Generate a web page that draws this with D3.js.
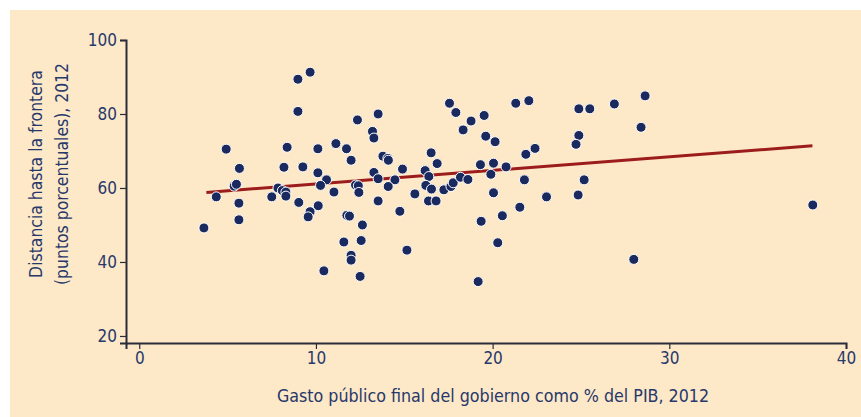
<!DOCTYPE html>
<html>
<head>
<meta charset="utf-8">
<script src="https://cdn.jsdelivr.net/npm/d3@7"></script>
<style>
  body { margin: 0; background: #fff; }
  svg { display: block; }
  text { font-family: "Liberation Sans Narrow", "DejaVu Sans Condensed", "Arial Narrow", sans-serif; }
</style>
</head>
<body>
<script>
// gasto publico (% PIB) and distancia a la frontera, one entry per country
const gasto = [3.66, 4.36, 4.92, 5.37, 5.5, 5.67, 5.64, 5.64, 7.5, 7.85, 8.1, 8.3, 8.3, 9.03, 8.37, 8.19,
  8.98, 8.98, 9.67, 12.35, 13.52, 13.2, 13.28, 10.11, 11.13, 11.73, 11.99, 9.26, 10.11, 10.6, 10.26,
  11.02, 12.24, 12.4, 13.28, 13.52, 13.79, 14.07, 14.1, 14.9, 14.47, 14.09, 16.52, 16.86, 16.18, 16.39,
  16.22, 16.54, 12.43, 15.6, 16.37, 16.8, 13.52, 14.75, 9.67, 9.56, 10.13, 11.75, 11.9, 12.63, 11.58,
  12.56, 11.99, 11.99, 10.45, 12.5, 15.15, 17.56, 17.92, 18.78, 18.33, 19.52, 19.61, 20.14, 21.31,
  22.05, 24.88, 25.5, 26.89, 28.4, 24.88, 24.72, 22.4, 21.88, 17.24, 17.64, 17.77, 18.18, 18.6, 19.31,
  20.05, 19.9, 20.76, 20.05, 21.8, 23.05, 24.84, 25.18, 21.54, 20.55, 19.35, 20.29, 19.18, 27.99,
  28.63, 38.12];
const distancia = [49.2, 57.6, 70.5, 60.5, 61.0, 65.3, 55.9, 51.4, 57.6, 60.0, 59.3, 58.9, 57.8, 56.1, 71.0, 65.6,
  89.4, 80.7, 91.3, 78.4, 80.0, 75.3, 73.5, 70.6, 72.0, 70.6, 67.5, 65.7, 64.1, 62.2, 60.7,
  58.9, 60.8, 60.6, 64.2, 62.5, 68.6, 68.0, 67.5, 65.1, 62.2, 60.4, 69.5, 66.6, 64.7, 63.1,
  60.7, 59.7, 58.8, 58.4, 56.5, 56.5, 56.5, 53.7, 53.6, 52.2, 55.2, 52.6, 52.4, 50.0, 45.4,
  45.8, 41.8, 40.5, 37.6, 36.1, 43.2, 82.9, 80.4, 78.1, 75.7, 79.6, 74.0, 72.5, 82.9,
  83.6, 81.4, 81.4, 82.7, 76.4, 74.2, 71.8, 70.7, 69.1, 59.5, 60.4, 61.4, 62.9, 62.3, 66.3,
  66.7, 63.7, 65.7, 58.7, 62.2, 57.6, 58.1, 62.2, 54.8, 52.5, 51.0, 45.2, 34.7, 40.7,
  84.9, 55.4];

// fitted line, ends
const lineaX = [3.8, 38.1];
const lineaY = [58.8, 71.4];

const xTicks = [0, 10, 20, 30, 40];
const yTicks = [20, 40, 60, 80, 100];

const main = () => {
  const W = 861, H = 417;
  const navy = "#27386a";

  const svg = d3.select("body").append("svg")
    .attr("width", W)
    .attr("height", H);

  svg.append("rect")
    .attr("x", 10).attr("y", 10)
    .attr("width", W - 10).attr("height", H - 10)
    .attr("fill", "#fde8c8");

  const x = d3.scaleLinear().domain([-0.75, 40]).range([126, 846]);
  const y = d3.scaleLinear().domain([18.1, 100]).range([343, 40]);

  const xAxis = svg.append("g")
    .attr("transform", "translate(0,343)")
    .call(d3.axisBottom(x).tickValues(xTicks).tickSizeOuter(0).tickSize(6).tickPadding(3));

  const yAxis = svg.append("g")
    .attr("transform", "translate(126,0)")
    .call(d3.axisLeft(y).tickValues(yTicks).tickSizeOuter(0).tickSize(6).tickPadding(3));

  [xAxis, yAxis].forEach(g => {
    g.select(".domain").attr("stroke", "#2a2c3a").attr("stroke-width", 2);
    g.selectAll(".tick line").attr("stroke", "#2a2c3a").attr("stroke-width", 1.2);
    g.selectAll(".tick text")
      .attr("fill", navy)
      .style("font-size", "17px");
  });

  // regression line
  svg.append("line")
    .attr("x1", x(lineaX[0])).attr("y1", y(lineaY[0]))
    .attr("x2", x(lineaX[1])).attr("y2", y(lineaY[1]))
    .attr("stroke", "#9c1c1c")
    .attr("stroke-width", 3);

  svg.append("g").selectAll("circle")
    .data(gasto)
    .enter()
    .append("circle")
    .attr("cx", d => x(d))
    .attr("cy", (d, i) => y(distancia[i]))
    .attr("r", 5)
    .attr("fill", "#1a2a5e")
    .attr("stroke", "#fff")
    .attr("stroke-width", 1);

  svg.append("text")
    .attr("x", 493).attr("y", 402)
    .attr("text-anchor", "middle")
    .attr("fill", navy)
    .style("font-size", "17.7px")
    .text("Gasto público final del gobierno como % del PIB, 2012");

  const yt = svg.append("text")
    .attr("transform", "translate(42,174) rotate(-90)")
    .attr("text-anchor", "middle")
    .attr("fill", navy)
    .style("font-size", "17.4px");
  yt.append("tspan").attr("x", 0).attr("dy", 0).text("Distancia hasta la frontera");
  yt.append("tspan").attr("x", 0).attr("dy", 26).text("(puntos porcentuales), 2012");
};

window.onload = main;
</script>
</body>
</html>
